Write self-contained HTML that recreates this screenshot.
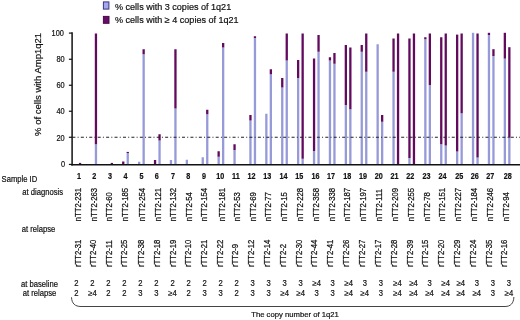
<!DOCTYPE html>
<html><head><meta charset="utf-8"><style>
html,body{margin:0;padding:0;background:#fff;}
body{width:520px;height:320px;overflow:hidden;}
svg{display:block;filter:blur(0.3px);font-family:"Liberation Sans", sans-serif;}
text{fill:#111111;stroke:#111111;stroke-width:0.2px;}
</style></head><body>
<svg width="520" height="320" viewBox="0 0 520 320">
<rect x="103.4" y="1.9" width="5.5" height="7.2" fill="#a4a6ee" stroke="#3b3580" stroke-width="1"/>
<rect x="103.4" y="16.4" width="5.6" height="6.9" fill="#650d68" stroke="#4a0a48" stroke-width="1"/>
<text transform="translate(115.00,9.60)" font-size="9.05">% cells with 3 copies of 1q21</text>
<text transform="translate(115.00,23.10)" font-size="9.05">% cells with &#8805; 4 copies of 1q21</text>
<text transform="translate(41.30,135.90) rotate(-90)" font-size="9.5">% of cells with Amp1q21</text>
<line x1="68.9" y1="164.45" x2="72" y2="164.45" stroke="#111" stroke-width="1.2"/>
<text transform="translate(65.00,166.80) scale(0.9,1)" font-size="8.2" text-anchor="end">0</text>
<line x1="68.9" y1="137.26" x2="72" y2="137.26" stroke="#111" stroke-width="1.2"/>
<text transform="translate(64.60,140.62) scale(0.9,1)" font-size="8.2" text-anchor="end">20</text>
<line x1="68.9" y1="111.24" x2="72" y2="111.24" stroke="#111" stroke-width="1.2"/>
<text transform="translate(64.60,114.44) scale(0.9,1)" font-size="8.2" text-anchor="end">40</text>
<line x1="68.9" y1="85.26" x2="72" y2="85.26" stroke="#111" stroke-width="1.2"/>
<text transform="translate(64.60,88.26) scale(0.9,1)" font-size="8.2" text-anchor="end">60</text>
<line x1="68.9" y1="59.26" x2="72" y2="59.26" stroke="#111" stroke-width="1.2"/>
<text transform="translate(64.60,62.08) scale(0.9,1)" font-size="8.2" text-anchor="end">80</text>
<line x1="68.9" y1="33.10" x2="72" y2="33.10" stroke="#111" stroke-width="1.2"/>
<text transform="translate(63.90,35.90) scale(0.9,1)" font-size="8.2" text-anchor="end">100</text>
<rect x="78.90" y="162.90" width="2.3" height="1.50" fill="#620b5e"/>
<rect x="94.80" y="144.25" width="2.3" height="20.15" fill="#979ad9"/>
<rect x="94.80" y="33.50" width="2.3" height="110.75" fill="#620b5e"/>
<rect x="110.70" y="162.90" width="2.3" height="1.50" fill="#620b5e"/>
<rect x="122.10" y="161.50" width="2.3" height="2.90" fill="#620b5e"/>
<rect x="126.60" y="153.00" width="2.3" height="11.40" fill="#979ad9"/>
<rect x="126.60" y="151.90" width="2.3" height="1.10" fill="#620b5e"/>
<rect x="138.00" y="161.75" width="2.3" height="2.65" fill="#979ad9"/>
<rect x="142.50" y="54.25" width="2.3" height="110.15" fill="#979ad9"/>
<rect x="142.50" y="49.25" width="2.3" height="5.00" fill="#620b5e"/>
<rect x="153.90" y="160.00" width="2.3" height="4.40" fill="#620b5e"/>
<rect x="158.40" y="140.50" width="2.3" height="23.90" fill="#979ad9"/>
<rect x="158.40" y="134.25" width="2.3" height="6.25" fill="#620b5e"/>
<rect x="169.80" y="160.00" width="2.3" height="4.40" fill="#979ad9"/>
<rect x="174.30" y="108.50" width="2.3" height="55.90" fill="#979ad9"/>
<rect x="174.30" y="49.25" width="2.3" height="59.25" fill="#620b5e"/>
<rect x="185.70" y="159.75" width="2.3" height="4.65" fill="#979ad9"/>
<rect x="201.60" y="157.25" width="2.3" height="7.15" fill="#979ad9"/>
<rect x="206.10" y="114.25" width="2.3" height="50.15" fill="#979ad9"/>
<rect x="206.10" y="109.75" width="2.3" height="4.50" fill="#620b5e"/>
<rect x="217.50" y="156.75" width="2.3" height="7.65" fill="#979ad9"/>
<rect x="217.50" y="151.25" width="2.3" height="5.50" fill="#620b5e"/>
<rect x="222.00" y="47.50" width="2.3" height="116.90" fill="#979ad9"/>
<rect x="222.00" y="43.00" width="2.3" height="4.50" fill="#620b5e"/>
<rect x="233.40" y="150.00" width="2.3" height="14.40" fill="#979ad9"/>
<rect x="233.40" y="144.25" width="2.3" height="5.75" fill="#620b5e"/>
<rect x="249.30" y="120.50" width="2.3" height="43.90" fill="#979ad9"/>
<rect x="249.30" y="115.00" width="2.3" height="5.50" fill="#620b5e"/>
<rect x="253.80" y="38.00" width="2.3" height="126.40" fill="#979ad9"/>
<rect x="253.80" y="36.25" width="2.3" height="1.75" fill="#620b5e"/>
<rect x="265.20" y="113.75" width="2.3" height="50.65" fill="#979ad9"/>
<rect x="269.70" y="74.25" width="2.3" height="90.15" fill="#979ad9"/>
<rect x="269.70" y="69.25" width="2.3" height="5.00" fill="#620b5e"/>
<rect x="281.10" y="87.50" width="2.3" height="76.90" fill="#979ad9"/>
<rect x="281.10" y="78.00" width="2.3" height="9.50" fill="#620b5e"/>
<rect x="285.60" y="60.50" width="2.3" height="103.90" fill="#979ad9"/>
<rect x="285.60" y="33.50" width="2.3" height="27.00" fill="#620b5e"/>
<rect x="297.00" y="78.00" width="2.3" height="86.40" fill="#979ad9"/>
<rect x="297.00" y="60.00" width="2.3" height="18.00" fill="#620b5e"/>
<rect x="301.50" y="158.75" width="2.3" height="5.65" fill="#979ad9"/>
<rect x="301.50" y="33.50" width="2.3" height="125.25" fill="#620b5e"/>
<rect x="312.90" y="151.00" width="2.3" height="13.40" fill="#979ad9"/>
<rect x="312.90" y="58.50" width="2.3" height="92.50" fill="#620b5e"/>
<rect x="317.40" y="51.75" width="2.3" height="112.65" fill="#979ad9"/>
<rect x="317.40" y="35.00" width="2.3" height="16.75" fill="#620b5e"/>
<rect x="328.80" y="60.50" width="2.3" height="103.90" fill="#979ad9"/>
<rect x="328.80" y="57.25" width="2.3" height="3.25" fill="#620b5e"/>
<rect x="333.30" y="63.75" width="2.3" height="100.65" fill="#979ad9"/>
<rect x="333.30" y="53.00" width="2.3" height="10.75" fill="#620b5e"/>
<rect x="344.70" y="105.00" width="2.3" height="59.40" fill="#979ad9"/>
<rect x="344.70" y="45.00" width="2.3" height="60.00" fill="#620b5e"/>
<rect x="349.20" y="109.25" width="2.3" height="55.15" fill="#979ad9"/>
<rect x="349.20" y="47.50" width="2.3" height="61.75" fill="#620b5e"/>
<rect x="360.60" y="51.75" width="2.3" height="112.65" fill="#979ad9"/>
<rect x="360.60" y="45.00" width="2.3" height="6.75" fill="#620b5e"/>
<rect x="365.10" y="71.75" width="2.3" height="92.65" fill="#979ad9"/>
<rect x="365.10" y="33.50" width="2.3" height="38.25" fill="#620b5e"/>
<rect x="376.50" y="44.25" width="2.3" height="120.15" fill="#979ad9"/>
<rect x="381.00" y="121.75" width="2.3" height="42.65" fill="#979ad9"/>
<rect x="381.00" y="115.00" width="2.3" height="6.75" fill="#620b5e"/>
<rect x="392.40" y="71.75" width="2.3" height="92.65" fill="#979ad9"/>
<rect x="392.40" y="38.50" width="2.3" height="33.25" fill="#620b5e"/>
<rect x="396.90" y="33.50" width="2.3" height="130.90" fill="#620b5e"/>
<rect x="408.30" y="158.00" width="2.3" height="6.40" fill="#979ad9"/>
<rect x="408.30" y="38.50" width="2.3" height="119.50" fill="#620b5e"/>
<rect x="412.80" y="33.50" width="2.3" height="130.90" fill="#620b5e"/>
<rect x="424.20" y="39.25" width="2.3" height="125.15" fill="#979ad9"/>
<rect x="424.20" y="37.25" width="2.3" height="2.00" fill="#620b5e"/>
<rect x="428.70" y="85.00" width="2.3" height="79.40" fill="#979ad9"/>
<rect x="428.70" y="33.50" width="2.3" height="51.50" fill="#620b5e"/>
<rect x="440.10" y="144.25" width="2.3" height="20.15" fill="#979ad9"/>
<rect x="440.10" y="37.25" width="2.3" height="107.00" fill="#620b5e"/>
<rect x="444.60" y="145.50" width="2.3" height="18.90" fill="#979ad9"/>
<rect x="444.60" y="33.50" width="2.3" height="112.00" fill="#620b5e"/>
<rect x="456.00" y="151.50" width="2.3" height="12.90" fill="#979ad9"/>
<rect x="456.00" y="34.60" width="2.3" height="116.90" fill="#620b5e"/>
<rect x="460.50" y="113.30" width="2.3" height="51.10" fill="#979ad9"/>
<rect x="460.50" y="33.50" width="2.3" height="79.80" fill="#620b5e"/>
<rect x="471.90" y="32.80" width="2.3" height="131.60" fill="#979ad9"/>
<rect x="476.40" y="157.50" width="2.3" height="6.90" fill="#979ad9"/>
<rect x="476.40" y="33.50" width="2.3" height="124.00" fill="#620b5e"/>
<rect x="487.80" y="35.00" width="2.3" height="129.40" fill="#979ad9"/>
<rect x="487.80" y="32.80" width="2.3" height="2.20" fill="#620b5e"/>
<rect x="492.30" y="56.00" width="2.3" height="108.40" fill="#979ad9"/>
<rect x="492.30" y="49.20" width="2.3" height="6.80" fill="#620b5e"/>
<rect x="503.70" y="58.60" width="2.3" height="105.80" fill="#979ad9"/>
<rect x="503.70" y="32.80" width="2.3" height="25.80" fill="#620b5e"/>
<rect x="508.20" y="137.80" width="2.3" height="26.60" fill="#979ad9"/>
<rect x="508.20" y="47.20" width="2.3" height="90.60" fill="#620b5e"/>
<line x1="72.4" y1="137.2" x2="520" y2="137.2" stroke="#222" stroke-width="1.1" stroke-dasharray="3 2.2 1 2.23"/>
<line x1="72.1" y1="32.3" x2="72.1" y2="165.4" stroke="#111" stroke-width="1.5"/>
<line x1="71.2" y1="164.75" x2="520" y2="164.75" stroke="#111" stroke-width="1.4"/>
<text transform="translate(1.60,181.60) scale(0.93,1)" font-size="8.2">Sample ID</text>
<text transform="translate(78.90,178.80) scale(0.84,1)" font-size="8.6" text-anchor="middle" font-weight="bold">1</text>
<text transform="translate(94.30,178.80) scale(0.84,1)" font-size="8.6" text-anchor="middle" font-weight="bold">2</text>
<text transform="translate(109.90,178.80) scale(0.84,1)" font-size="8.6" text-anchor="middle" font-weight="bold">3</text>
<text transform="translate(125.60,178.80) scale(0.84,1)" font-size="8.6" text-anchor="middle" font-weight="bold">4</text>
<text transform="translate(141.50,178.80) scale(0.84,1)" font-size="8.6" text-anchor="middle" font-weight="bold">5</text>
<text transform="translate(156.80,178.80) scale(0.84,1)" font-size="8.6" text-anchor="middle" font-weight="bold">6</text>
<text transform="translate(173.00,178.80) scale(0.84,1)" font-size="8.6" text-anchor="middle" font-weight="bold">7</text>
<text transform="translate(188.20,178.80) scale(0.84,1)" font-size="8.6" text-anchor="middle" font-weight="bold">8</text>
<text transform="translate(204.10,178.80) scale(0.84,1)" font-size="8.6" text-anchor="middle" font-weight="bold">9</text>
<text transform="translate(220.30,178.80) scale(0.84,1)" font-size="8.6" text-anchor="middle" font-weight="bold">10</text>
<text transform="translate(235.90,178.80) scale(0.84,1)" font-size="8.6" text-anchor="middle" font-weight="bold">11</text>
<text transform="translate(251.50,178.80) scale(0.84,1)" font-size="8.6" text-anchor="middle" font-weight="bold">12</text>
<text transform="translate(267.30,178.80) scale(0.84,1)" font-size="8.6" text-anchor="middle" font-weight="bold">13</text>
<text transform="translate(283.40,178.80) scale(0.84,1)" font-size="8.6" text-anchor="middle" font-weight="bold">14</text>
<text transform="translate(299.20,178.80) scale(0.84,1)" font-size="8.6" text-anchor="middle" font-weight="bold">15</text>
<text transform="translate(315.50,178.80) scale(0.84,1)" font-size="8.6" text-anchor="middle" font-weight="bold">16</text>
<text transform="translate(331.00,178.80) scale(0.84,1)" font-size="8.6" text-anchor="middle" font-weight="bold">17</text>
<text transform="translate(347.20,178.80) scale(0.84,1)" font-size="8.6" text-anchor="middle" font-weight="bold">18</text>
<text transform="translate(363.10,178.80) scale(0.84,1)" font-size="8.6" text-anchor="middle" font-weight="bold">19</text>
<text transform="translate(378.80,178.80) scale(0.84,1)" font-size="8.6" text-anchor="middle" font-weight="bold">20</text>
<text transform="translate(394.40,178.80) scale(0.84,1)" font-size="8.6" text-anchor="middle" font-weight="bold">21</text>
<text transform="translate(410.30,178.80) scale(0.84,1)" font-size="8.6" text-anchor="middle" font-weight="bold">22</text>
<text transform="translate(426.40,178.80) scale(0.84,1)" font-size="8.6" text-anchor="middle" font-weight="bold">23</text>
<text transform="translate(442.40,178.80) scale(0.84,1)" font-size="8.6" text-anchor="middle" font-weight="bold">24</text>
<text transform="translate(459.20,178.80) scale(0.84,1)" font-size="8.6" text-anchor="middle" font-weight="bold">25</text>
<text transform="translate(474.80,178.80) scale(0.84,1)" font-size="8.6" text-anchor="middle" font-weight="bold">26</text>
<text transform="translate(490.30,178.80) scale(0.84,1)" font-size="8.6" text-anchor="middle" font-weight="bold">27</text>
<text transform="translate(507.70,178.80) scale(0.84,1)" font-size="8.6" text-anchor="middle" font-weight="bold">28</text>
<text transform="translate(22.20,194.60) scale(0.9,1)" font-size="8.5">at diagnosis</text>
<text transform="translate(21.80,232.30) scale(0.9,1)" font-size="8.5">at relapse</text>
<text transform="translate(81.25,221.20) rotate(-90) scale(1,1.15)" font-size="7.7">nTT2-231</text>
<text transform="translate(80.55,267.00) rotate(-90) scale(1,1.15)" font-size="7.7">rTT2-31</text>
<text transform="translate(96.95,221.20) rotate(-90) scale(1,1.15)" font-size="7.7">nTT2-263</text>
<text transform="translate(96.05,267.00) rotate(-90) scale(1,1.15)" font-size="7.7">rTT2-40</text>
<text transform="translate(112.45,221.20) rotate(-90) scale(1,1.15)" font-size="7.7">nTT2-60</text>
<text transform="translate(111.50,267.00) rotate(-90) scale(1,1.15)" font-size="7.7">rTT2-11</text>
<text transform="translate(128.35,221.20) rotate(-90) scale(1,1.15)" font-size="7.7">nTT2-185</text>
<text transform="translate(127.25,267.00) rotate(-90) scale(1,1.15)" font-size="7.7">rTT2-25</text>
<text transform="translate(144.50,221.20) rotate(-90) scale(1,1.15)" font-size="7.7">nTT2-254</text>
<text transform="translate(144.15,267.00) rotate(-90) scale(1,1.15)" font-size="7.7">rTT2-38</text>
<text transform="translate(160.60,221.20) rotate(-90) scale(1,1.15)" font-size="7.7">nTT2-121</text>
<text transform="translate(160.05,267.00) rotate(-90) scale(1,1.15)" font-size="7.7">rTT2-18</text>
<text transform="translate(176.45,221.20) rotate(-90) scale(1,1.15)" font-size="7.7">nTT2-132</text>
<text transform="translate(175.55,267.00) rotate(-90) scale(1,1.15)" font-size="7.7">rTT2-19</text>
<text transform="translate(191.85,221.20) rotate(-90) scale(1,1.15)" font-size="7.7">nTT2-54</text>
<text transform="translate(191.20,267.00) rotate(-90) scale(1,1.15)" font-size="7.7">rTT2-10</text>
<text transform="translate(207.35,221.20) rotate(-90) scale(1,1.15)" font-size="7.7">nTT2-154</text>
<text transform="translate(206.60,267.00) rotate(-90) scale(1,1.15)" font-size="7.7">rTT2-21</text>
<text transform="translate(224.55,221.20) rotate(-90) scale(1,1.15)" font-size="7.7">nTT2-181</text>
<text transform="translate(223.00,267.00) rotate(-90) scale(1,1.15)" font-size="7.7">rTT2-22</text>
<text transform="translate(240.15,221.20) rotate(-90) scale(1,1.15)" font-size="7.7">nTT2-53</text>
<text transform="translate(238.15,267.00) rotate(-90) scale(1,1.15)" font-size="7.7">rTT2-9</text>
<text transform="translate(256.05,221.20) rotate(-90) scale(1,1.15)" font-size="7.7">nTT2-69</text>
<text transform="translate(253.55,267.00) rotate(-90) scale(1,1.15)" font-size="7.7">rTT2-12</text>
<text transform="translate(271.15,221.20) rotate(-90) scale(1,1.15)" font-size="7.7">nTT2-77</text>
<text transform="translate(269.70,267.00) rotate(-90) scale(1,1.15)" font-size="7.7">rTT2-14</text>
<text transform="translate(286.90,221.20) rotate(-90) scale(1,1.15)" font-size="7.7">nTT2-15</text>
<text transform="translate(285.60,267.00) rotate(-90) scale(1,1.15)" font-size="7.7">rTT2-2</text>
<text transform="translate(302.75,221.20) rotate(-90) scale(1,1.15)" font-size="7.7">nTT2-228</text>
<text transform="translate(301.50,267.00) rotate(-90) scale(1,1.15)" font-size="7.7">rTT2-30</text>
<text transform="translate(318.75,221.20) rotate(-90) scale(1,1.15)" font-size="7.7">nTT2-358</text>
<text transform="translate(317.20,267.00) rotate(-90) scale(1,1.15)" font-size="7.7">rTT2-44</text>
<text transform="translate(334.60,221.20) rotate(-90) scale(1,1.15)" font-size="7.7">nTT2-338</text>
<text transform="translate(333.45,267.00) rotate(-90) scale(1,1.15)" font-size="7.7">rTT2-41</text>
<text transform="translate(350.15,221.20) rotate(-90) scale(1,1.15)" font-size="7.7">nTT2-187</text>
<text transform="translate(348.95,267.00) rotate(-90) scale(1,1.15)" font-size="7.7">rTT2-26</text>
<text transform="translate(366.10,221.20) rotate(-90) scale(1,1.15)" font-size="7.7">nTT2-197</text>
<text transform="translate(364.85,267.00) rotate(-90) scale(1,1.15)" font-size="7.7">rTT2-27</text>
<text transform="translate(382.05,221.20) rotate(-90) scale(1,1.15)" font-size="7.7">nTT2-111</text>
<text transform="translate(380.75,267.00) rotate(-90) scale(1,1.15)" font-size="7.7">rTT2-17</text>
<text transform="translate(398.25,221.20) rotate(-90) scale(1,1.15)" font-size="7.7">nTT2-209</text>
<text transform="translate(396.70,267.00) rotate(-90) scale(1,1.15)" font-size="7.7">rTT2-28</text>
<text transform="translate(413.75,221.20) rotate(-90) scale(1,1.15)" font-size="7.7">nTT2-255</text>
<text transform="translate(412.55,267.00) rotate(-90) scale(1,1.15)" font-size="7.7">rTT2-39</text>
<text transform="translate(429.50,221.20) rotate(-90) scale(1,1.15)" font-size="7.7">nTT2-78</text>
<text transform="translate(428.35,267.00) rotate(-90) scale(1,1.15)" font-size="7.7">rTT2-15</text>
<text transform="translate(445.35,221.20) rotate(-90) scale(1,1.15)" font-size="7.7">nTT2-151</text>
<text transform="translate(443.95,267.00) rotate(-90) scale(1,1.15)" font-size="7.7">rTT2-20</text>
<text transform="translate(461.45,221.20) rotate(-90) scale(1,1.15)" font-size="7.7">nTT2-227</text>
<text transform="translate(460.25,267.00) rotate(-90) scale(1,1.15)" font-size="7.7">rTT2-29</text>
<text transform="translate(477.05,221.20) rotate(-90) scale(1,1.15)" font-size="7.7">nTT2-184</text>
<text transform="translate(476.10,267.00) rotate(-90) scale(1,1.15)" font-size="7.7">rTT2-24</text>
<text transform="translate(493.10,221.20) rotate(-90) scale(1,1.15)" font-size="7.7">nTT2-246</text>
<text transform="translate(491.80,267.00) rotate(-90) scale(1,1.15)" font-size="7.7">rTT2-35</text>
<text transform="translate(509.15,221.20) rotate(-90) scale(1,1.15)" font-size="7.7">nTT2-94</text>
<text transform="translate(507.35,267.00) rotate(-90) scale(1,1.15)" font-size="7.7">rTT2-16</text>
<text transform="translate(39.50,286.50) scale(0.9,1)" font-size="8.5" text-anchor="middle">at baseline</text>
<text transform="translate(39.50,295.50) scale(0.9,1)" font-size="8.5" text-anchor="middle">at relapse</text>
<text transform="translate(76.40,286.40) scale(0.9,1)" font-size="8.5" text-anchor="middle">2</text>
<text transform="translate(76.40,295.70) scale(0.9,1)" font-size="8.5" text-anchor="middle">2</text>
<text transform="translate(92.42,286.40) scale(0.9,1)" font-size="8.5" text-anchor="middle">2</text>
<text transform="translate(92.42,295.70) scale(0.9,1)" font-size="8.5" text-anchor="middle">&#8805;4</text>
<text transform="translate(108.44,286.40) scale(0.9,1)" font-size="8.5" text-anchor="middle">2</text>
<text transform="translate(108.44,295.70) scale(0.9,1)" font-size="8.5" text-anchor="middle">2</text>
<text transform="translate(124.46,286.40) scale(0.9,1)" font-size="8.5" text-anchor="middle">2</text>
<text transform="translate(124.46,295.70) scale(0.9,1)" font-size="8.5" text-anchor="middle">2</text>
<text transform="translate(140.48,286.40) scale(0.9,1)" font-size="8.5" text-anchor="middle">2</text>
<text transform="translate(140.48,295.70) scale(0.9,1)" font-size="8.5" text-anchor="middle">3</text>
<text transform="translate(156.50,286.40) scale(0.9,1)" font-size="8.5" text-anchor="middle">2</text>
<text transform="translate(156.50,295.70) scale(0.9,1)" font-size="8.5" text-anchor="middle">3</text>
<text transform="translate(172.52,286.40) scale(0.9,1)" font-size="8.5" text-anchor="middle">2</text>
<text transform="translate(172.52,295.70) scale(0.9,1)" font-size="8.5" text-anchor="middle">&#8805;4</text>
<text transform="translate(188.54,286.40) scale(0.9,1)" font-size="8.5" text-anchor="middle">2</text>
<text transform="translate(188.54,295.70) scale(0.9,1)" font-size="8.5" text-anchor="middle">2</text>
<text transform="translate(204.56,286.40) scale(0.9,1)" font-size="8.5" text-anchor="middle">2</text>
<text transform="translate(204.56,295.70) scale(0.9,1)" font-size="8.5" text-anchor="middle">3</text>
<text transform="translate(220.58,286.40) scale(0.9,1)" font-size="8.5" text-anchor="middle">2</text>
<text transform="translate(220.58,295.70) scale(0.9,1)" font-size="8.5" text-anchor="middle">3</text>
<text transform="translate(236.60,286.40) scale(0.9,1)" font-size="8.5" text-anchor="middle">2</text>
<text transform="translate(236.60,295.70) scale(0.9,1)" font-size="8.5" text-anchor="middle">2</text>
<text transform="translate(252.62,286.40) scale(0.9,1)" font-size="8.5" text-anchor="middle">3</text>
<text transform="translate(252.62,295.70) scale(0.9,1)" font-size="8.5" text-anchor="middle">3</text>
<text transform="translate(268.64,286.40) scale(0.9,1)" font-size="8.5" text-anchor="middle">3</text>
<text transform="translate(268.64,295.70) scale(0.9,1)" font-size="8.5" text-anchor="middle">3</text>
<text transform="translate(284.66,286.40) scale(0.9,1)" font-size="8.5" text-anchor="middle">3</text>
<text transform="translate(284.66,295.70) scale(0.9,1)" font-size="8.5" text-anchor="middle">&#8805;4</text>
<text transform="translate(300.68,286.40) scale(0.9,1)" font-size="8.5" text-anchor="middle">3</text>
<text transform="translate(300.68,295.70) scale(0.9,1)" font-size="8.5" text-anchor="middle">&#8805;4</text>
<text transform="translate(316.70,286.40) scale(0.9,1)" font-size="8.5" text-anchor="middle">&#8805;4</text>
<text transform="translate(316.70,295.70) scale(0.9,1)" font-size="8.5" text-anchor="middle">3</text>
<text transform="translate(332.72,286.40) scale(0.9,1)" font-size="8.5" text-anchor="middle">3</text>
<text transform="translate(332.72,295.70) scale(0.9,1)" font-size="8.5" text-anchor="middle">3</text>
<text transform="translate(348.74,286.40) scale(0.9,1)" font-size="8.5" text-anchor="middle">&#8805;4</text>
<text transform="translate(348.74,295.70) scale(0.9,1)" font-size="8.5" text-anchor="middle">&#8805;4</text>
<text transform="translate(364.76,286.40) scale(0.9,1)" font-size="8.5" text-anchor="middle">3</text>
<text transform="translate(364.76,295.70) scale(0.9,1)" font-size="8.5" text-anchor="middle">&#8805;4</text>
<text transform="translate(380.78,286.40) scale(0.9,1)" font-size="8.5" text-anchor="middle">3</text>
<text transform="translate(380.78,295.70) scale(0.9,1)" font-size="8.5" text-anchor="middle">3</text>
<text transform="translate(397.60,286.40) scale(0.9,1)" font-size="8.5" text-anchor="middle">&#8805;4</text>
<text transform="translate(397.60,295.70) scale(0.9,1)" font-size="8.5" text-anchor="middle">&#8805;4</text>
<text transform="translate(413.62,286.40) scale(0.9,1)" font-size="8.5" text-anchor="middle">&#8805;4</text>
<text transform="translate(413.62,295.70) scale(0.9,1)" font-size="8.5" text-anchor="middle">&#8805;4</text>
<text transform="translate(429.64,286.40) scale(0.9,1)" font-size="8.5" text-anchor="middle">3</text>
<text transform="translate(429.64,295.70) scale(0.9,1)" font-size="8.5" text-anchor="middle">&#8805;4</text>
<text transform="translate(445.66,286.40) scale(0.9,1)" font-size="8.5" text-anchor="middle">&#8805;4</text>
<text transform="translate(445.66,295.70) scale(0.9,1)" font-size="8.5" text-anchor="middle">&#8805;4</text>
<text transform="translate(460.88,286.40) scale(0.9,1)" font-size="8.5" text-anchor="middle">&#8805;4</text>
<text transform="translate(460.88,295.70) scale(0.9,1)" font-size="8.5" text-anchor="middle">&#8805;4</text>
<text transform="translate(476.90,286.40) scale(0.9,1)" font-size="8.5" text-anchor="middle">3</text>
<text transform="translate(476.90,295.70) scale(0.9,1)" font-size="8.5" text-anchor="middle">&#8805;4</text>
<text transform="translate(492.92,286.40) scale(0.9,1)" font-size="8.5" text-anchor="middle">3</text>
<text transform="translate(492.92,295.70) scale(0.9,1)" font-size="8.5" text-anchor="middle">3</text>
<text transform="translate(508.94,286.40) scale(0.9,1)" font-size="8.5" text-anchor="middle">3</text>
<text transform="translate(508.94,295.70) scale(0.9,1)" font-size="8.5" text-anchor="middle">&#8805;4</text>
<path d="M71.5,297.3 C71.8,303.5 75,306.5 81,306.5 L505,306.5 C510.5,306.5 513.6,303.5 513.9,297" fill="none" stroke="#444" stroke-width="1"/>
<text transform="translate(251.20,317.30)" font-size="7.7">The copy number of 1q21</text>
</svg>
</body></html>
